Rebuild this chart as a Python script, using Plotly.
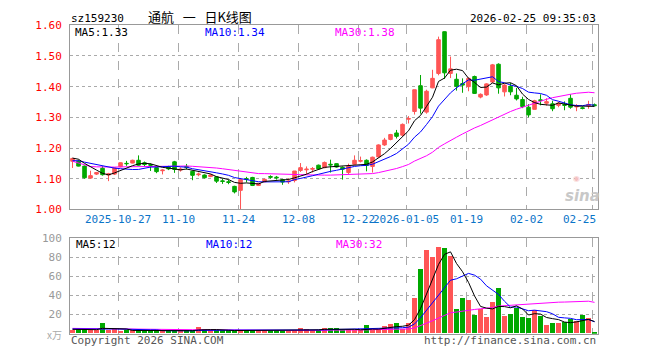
import plotly.graph_objects as go
import pandas as pd

# ---------------- data ----------------
dates = ["2025-10-15","2025-10-16","2025-10-17","2025-10-20","2025-10-21","2025-10-22","2025-10-23","2025-10-24",
         "2025-10-27","2025-10-28","2025-10-29","2025-10-30","2025-10-31",
         "2025-11-03","2025-11-04","2025-11-05","2025-11-06","2025-11-07",
         "2025-11-10","2025-11-11","2025-11-12","2025-11-13","2025-11-14",
         "2025-11-17","2025-11-18","2025-11-19","2025-11-20","2025-11-21",
         "2025-11-24","2025-11-25","2025-11-26","2025-11-27","2025-11-28",
         "2025-12-01","2025-12-02","2025-12-03","2025-12-04","2025-12-05",
         "2025-12-08","2025-12-09","2025-12-10","2025-12-11","2025-12-12",
         "2025-12-15","2025-12-16","2025-12-17","2025-12-18","2025-12-19",
         "2025-12-22","2025-12-23","2025-12-24","2025-12-25","2025-12-26",
         "2025-12-29","2025-12-30","2025-12-31",
         "2026-01-05","2026-01-06","2026-01-07","2026-01-08","2026-01-09",
         "2026-01-12","2026-01-13","2026-01-14","2026-01-15","2026-01-16",
         "2026-01-19","2026-01-20","2026-01-21","2026-01-22","2026-01-23",
         "2026-01-26","2026-01-27","2026-01-28","2026-01-29","2026-01-30",
         "2026-02-02","2026-02-03","2026-02-04","2026-02-05","2026-02-06",
         "2026-02-09","2026-02-10","2026-02-11","2026-02-12","2026-02-13",
         "2026-02-24","2026-02-25"]

open_ = [1.157,1.157,1.141,1.102,1.115,1.134,1.112,1.115,1.139,1.150,1.151,1.160,1.152,1.146,1.136,1.126,1.139,1.155,
         1.128,1.140,1.124,1.113,1.112,1.107,1.106,1.093,1.090,1.075,1.062,1.100,1.104,1.078,1.090,1.107,1.105,1.097,
         1.090,1.094,1.127,1.129,1.131,1.144,1.136,1.147,1.149,1.137,1.120,1.147,1.157,1.160,1.140,1.171,1.210,1.228,
         1.249,1.242,1.294,1.319,1.403,1.317,1.396,1.443,1.579,1.443,1.424,1.410,1.400,1.433,1.366,1.373,1.415,1.473,
         1.383,1.401,1.372,1.358,1.333,1.326,1.357,1.346,1.344,1.339,1.342,1.362,1.334,1.331,1.337,1.341]
high = [1.168,1.162,1.143,1.126,1.122,1.141,1.119,1.137,1.153,1.158,1.162,1.176,1.156,1.150,1.137,1.131,1.142,1.158,
        1.137,1.148,1.126,1.120,1.114,1.115,1.108,1.099,1.096,1.077,1.101,1.106,1.106,1.086,1.100,1.111,1.109,1.099,
        1.101,1.125,1.151,1.140,1.138,1.146,1.156,1.162,1.150,1.140,1.149,1.176,1.172,1.163,1.172,1.212,1.233,1.246,
        1.259,1.280,1.304,1.390,1.438,1.390,1.455,1.563,1.580,1.498,1.443,1.427,1.430,1.436,1.378,1.411,1.474,1.476,
        1.408,1.412,1.396,1.367,1.343,1.357,1.375,1.362,1.354,1.350,1.352,1.375,1.343,1.336,1.354,1.345]
low = [1.135,1.140,1.100,1.100,1.112,1.110,1.092,1.112,1.137,1.142,1.150,1.142,1.140,1.125,1.118,1.114,1.128,1.119,
       1.123,1.130,1.095,1.108,1.101,1.105,1.086,1.083,1.082,1.052,1.000,1.088,1.076,1.076,1.088,1.100,1.097,1.080,
       1.083,1.088,1.122,1.115,1.120,1.130,1.134,1.120,1.136,1.097,1.115,1.145,1.153,1.124,1.120,1.170,1.207,1.225,
       1.231,1.238,1.280,1.309,1.312,1.312,1.395,1.437,1.425,1.428,1.387,1.380,1.385,1.376,1.362,1.370,1.412,1.377,
       1.368,1.372,1.355,1.330,1.300,1.326,1.339,1.338,1.320,1.333,1.323,1.328,1.320,1.326,1.328,1.337]
close = [1.166,1.141,1.103,1.110,1.120,1.113,1.116,1.135,1.152,1.149,1.160,1.144,1.146,1.144,1.123,1.128,1.132,1.130,
         1.131,1.137,1.111,1.115,1.103,1.112,1.092,1.091,1.088,1.057,1.097,1.098,1.078,1.085,1.098,1.105,1.103,1.089,
         1.092,1.125,1.136,1.131,1.133,1.132,1.153,1.145,1.138,1.131,1.141,1.160,1.159,1.143,1.170,1.210,1.226,1.244,
         1.238,1.277,1.296,1.390,1.330,1.385,1.427,1.553,1.445,1.458,1.401,1.405,1.427,1.378,1.375,1.409,1.471,1.396,
         1.405,1.383,1.360,1.335,1.308,1.354,1.355,1.351,1.328,1.346,1.339,1.333,1.336,1.329,1.342,1.338]
volume = [4,5,5,4,3.3,11,3.3,5,2.3,3.3,3.3,3.3,3,3,3.3,2.3,3,3,3.3,3.3,3.3,6.7,5,3.3,3.3,3.3,3.3,3.3,
          3.3,3.3,3.3,3.3,4,3.3,4,4,2.7,2.7,6,5,3.3,3.3,5.7,6,5.7,3.3,5,3.3,3.3,9,3.3,5,8,10,
          11,5,10.7,37,68,87,80,91,90,81,26,37,35,19,26,17,33,48,18,20,27,17,16,25,18,9,11,11,12,15,13,19,16,1]
# closes / volumes of the days before the first visible one (only used by the moving averages)
pre_close = [1.30,1.29,1.28,1.15,1.14,1.13,1.12,1.13,1.14,1.13,1.12,1.13,1.14,1.13,1.12,1.13,1.14,1.13,1.13,1.14,
             1.14,1.15,1.15,1.15,1.16,1.16,1.17,1.17,1.17]
pre_volume = [8,7,7,6,6,6,5,6,6,5,6,6,5,5,6,6,5,6,6,5,6,5,5,6,5,5,4,5,5]

tick_dates = ["2025-10-27","2025-11-10","2025-11-24","2025-12-08","2025-12-22","2026-01-05","2026-01-19","2026-02-02","2026-02-25"]
tick_text = ["2025-10-27","11-10","11-24","12-08","12-22","2026-01-05","01-19","02-02","02-25"]
price_ticks = [1.00,1.10,1.20,1.30,1.40,1.50,1.60]
vol_ticks = [20,40,60,80,100]

# ---------------- derived ----------------
n = len(dates)
idx = list(range(n))
xc = [i + 0.42 for i in idx]          # candle centre inside its day slot
tick_pos = [dates.index(d) for d in tick_dates]

def ma(pre, vals, w):
    s = pd.Series(pre + vals).rolling(w, min_periods=1).mean()
    return list(s.iloc[len(pre):])

ma5, ma10, ma30 = ma(pre_close, close, 5), ma(pre_close, close, 10), ma(pre_close, close, 30)
vma5, vma10, vma30 = ma(pre_volume, volume, 5), ma(pre_volume, volume, 10), ma(pre_volume, volume, 30)

RED = "#ff5555"
GREEN = "#00a800"
up = [c >= o for o, c in zip(open_, close)]
vcol = [RED if u else GREEN for u in up]

FONT = "DejaVu Sans Mono"

fig = go.Figure()
fig.add_trace(go.Candlestick(
    x=xc, open=open_, high=high, low=low, close=close,
    increasing=dict(line=dict(color=RED, width=1), fillcolor=RED),
    decreasing=dict(line=dict(color=GREEN, width=1), fillcolor=GREEN),
    whiskerwidth=0, showlegend=False, hoverinfo="skip", xaxis="x", yaxis="y"))
for m, c in [(ma30, "#ff00ff"), (ma10, "#0000ff"), (ma5, "#000000")]:
    fig.add_trace(go.Scatter(x=xc, y=m, mode="lines", line=dict(color=c, width=1),
                             showlegend=False, hoverinfo="skip", xaxis="x", yaxis="y"))

fig.add_trace(go.Bar(x=xc, y=volume, width=0.83, marker=dict(color=vcol, line=dict(width=0)),
                     showlegend=False, hoverinfo="skip", xaxis="x2", yaxis="y2"))
for m, c in [(vma30, "#ff00ff"), (vma10, "#0000ff"), (vma5, "#000000")]:
    fig.add_trace(go.Scatter(x=xc, y=m, mode="lines", line=dict(color=c, width=1),
                             showlegend=False, hoverinfo="skip", xaxis="x2", yaxis="y2"))

W, H = 660, 360
xdom = [70 / W, 598 / W]
axis_common = dict(range=[0, n], tickvals=tick_pos, showticklabels=False, ticks="",
                   showgrid=True, gridcolor="#aaaaaa", griddash="dash", gridwidth=1,
                   zeroline=False, showline=True, linecolor="#999999", linewidth=1, mirror=True,
                   fixedrange=True)
fig.update_layout(
    width=W, height=H, margin=dict(l=0, r=0, t=0, b=0),
    paper_bgcolor="white", plot_bgcolor="white", boxgap=0.15, bargap=0,
    font=dict(family=FONT, size=10),
    xaxis=dict(domain=xdom, anchor="y", rangeslider=dict(visible=False), **axis_common),
    xaxis2=dict(domain=xdom, anchor="y2", **axis_common),
    yaxis=dict(domain=[1 - 211 / H, 1 - 20 / H], range=[1.0, 1.6], tickvals=price_ticks,
               ticktext=[f"{v:.2f}" for v in price_ticks], tickfont=dict(color="#ff0000", size=11, family=FONT),
               ticks="", ticklabelstandoff=5, showgrid=True, gridcolor="#aaaaaa", griddash="dot",
               zeroline=False, showline=True, linecolor="#999999", linewidth=1, mirror=True, fixedrange=True),
    yaxis2=dict(domain=[1 - 340 / H, 1 - 241 / H], range=[0, 100], tickvals=vol_ticks,
                ticktext=[str(v) for v in vol_ticks], tickfont=dict(color="#999999", size=11, family=FONT),
                ticks="", ticklabelstandoff=5, showgrid=True, gridcolor="#aaaaaa", griddash="dot",
                zeroline=False, showline=True, linecolor="#999999", linewidth=1, mirror=True, fixedrange=True),
)

ann = []
def txt(x, y, s, color="#000000", size=10, xanchor="left", yanchor="middle", xref="paper", yref="paper",
        family=FONT, **kw):
    ann.append(dict(x=x, y=y, xref=xref, yref=yref, text=s, showarrow=False, xanchor=xanchor,
                    yanchor=yanchor, font=dict(color=color, size=size, family=family), **kw))

py = lambda p: 1 - p / H
px = lambda p: p / W
NB = "\u00a0"
# header
txt(px(200), py(0.5), "通航" + NB * 3 + "一" + NB * 3 + "日K线图", size=13, xanchor="center",
    yanchor="top", family="Noto Sans CJK SC", borderpad=0)
txt(px(69), py(13), "sz159230", size=11)
txt(px(598), py(13), "2026-02-25 09:35:03", size=11, xanchor="right")
# MA labels
txt(px(74), py(27), "MA5:1.33", size=11, borderpad=0)
txt(px(204), py(27), "MA10:1.34", color="#0000ff", size=11, borderpad=0)
txt(px(334), py(27), "MA30:1.38", color="#ff00ff", size=11, borderpad=0)
txt(px(74), py(247), "MA5:12", size=11)
txt(px(204), py(247), "MA10:12", color="#0000ff", size=11)
txt(px(334), py(247), "MA30:32", color="#ff00ff", size=11)
# date labels
for p, t in zip(tick_pos, tick_text):
    if p == n - 1:
        txt(n, py(222), t, color="#0a74c8", size=11, xanchor="right", xref="x")
    else:
        txt(p, py(222), t, color="#0a74c8", size=11, xanchor="center", xref="x")
# volume unit
txt(px(64), py(341), "x万", color="#aaaaaa", size=10, xanchor="right", family="Noto Sans CJK SC")
# footer
txt(px(69), py(347), "Copyright 2026 SINA.COM", color="#555555", size=11)
txt(px(598), py(347), "http://finance.sina.com.cn", color="#555555", size=11, xanchor="right")
# watermark
txt(px(582), py(197), "<b><i>sina</i></b>", color="#c8c8c8", size=15, xanchor="center", family="DejaVu Sans")
txt(px(576), py(179), "◉", color="#f4c0c0", size=8, xanchor="center", family="DejaVu Sans")

fig.update_layout(annotations=ann)
fig.write_html("out.html")
